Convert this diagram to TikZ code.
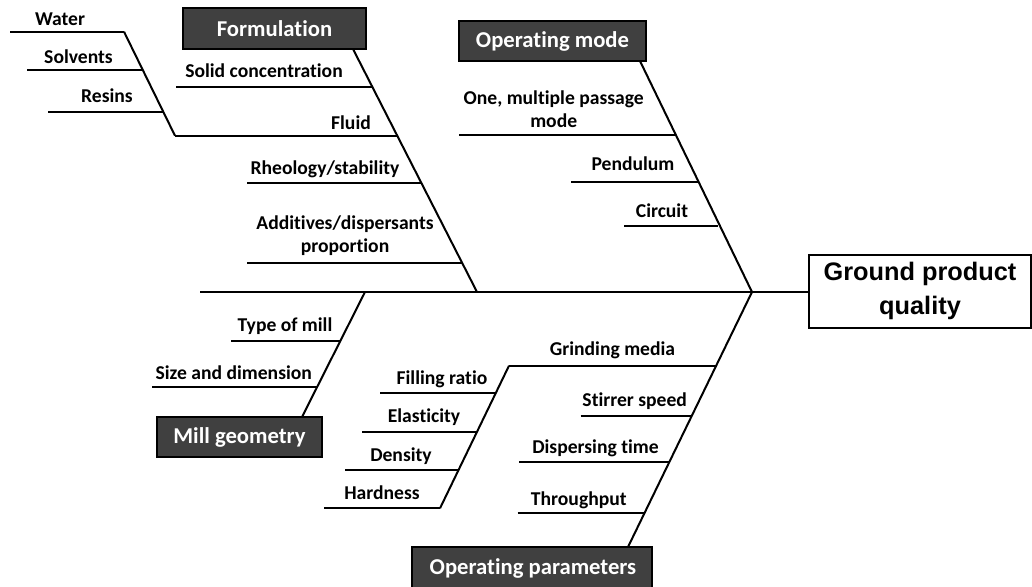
\documentclass[tikz,border=0pt]{standalone}
\usepackage{fontspec}
\setmainfont{Carlito}[Ligatures=NoCommon]
\newfontfamily\arialbold{Liberation Sans}[BoldFont={* Bold}]
\definecolor{catfill}{RGB}{64,64,64}
\begin{document}
\begin{tikzpicture}[x=0.75pt,y=-0.75pt,
  bone/.style={line width=1.5pt,black},
  cause/.style={draw=black,line width=0.8pt,fill=catfill,text=white,
    font=\fontsize{17}{20}\selectfont\bfseries,inner sep=0pt},
  lbl/.style={font=\fontsize{14.7}{17}\selectfont\bfseries,inner sep=0pt,align=center},
  effect/.style={draw=black,line width=1.5pt,fill=white,
    font=\arialbold\fontsize{19}{25}\selectfont\bfseries,inner sep=0pt,align=center}]
\useasboundingbox (0,0) rectangle (1032,586);
\clip (0,0) rectangle (1032,586);

% ---------- effect and spine ----------
\node[effect,minimum width=222*0.75pt,minimum height=73*0.75pt] (gpq) at (920,291)
  {Ground product\\quality};
\coordinate (head) at (752,292);
\coordinate (tail) at (200,292);
\draw[bone] (tail) -- (head) -- (head -| gpq.west);

% ---------- category boxes ----------
\node[cause,minimum width=183*0.75pt,minimum height=41*0.75pt] (form) at (274.5,28.5) {Formulation};
\node[cause,minimum width=187*0.75pt,minimum height=40*0.75pt] (opmode) at (552.5,41) {Operating mode};
\node[cause,minimum width=165*0.75pt,minimum height=40*0.75pt] (mill) at (239.5,437) {Mill geometry};
\node[cause,minimum width=240*0.75pt,minimum height=60*0.75pt] (oppar) at (532,577) {};
\node[text=white,font=\fontsize{17}{20}\selectfont\bfseries,inner sep=0pt] (opparT) at (533,568) {Operating parameters};

% ---------- Formulation ----------
\coordinate (fTop) at (353,49);
\coordinate (fBot) at (477,292);
\draw[bone] (fTop) -- (fBot);
\coordinate (fA) at (372,86.7);   \coordinate (fA0) at (176,86.7);
\coordinate (fB) at (397,135.7);  \coordinate (fB0) at (175,135.7);
\coordinate (fC) at (421,182.7);  \coordinate (fC0) at (247,182.7);
\coordinate (fD) at (462,262.7);  \coordinate (fD0) at (247,262.7);
\draw[bone] (fA0) -- (fA);
\draw[bone] (fB0) -- (fB);
\draw[bone] (fC0) -- (fC);
\draw[bone] (fD0) -- (fD);
\node[lbl] (tA) at (264,71) {Solid concentration};
\node[lbl] (tB) at (351,122.5) {Fluid};
\node[lbl] (tC) at (325,169.5) {Rheology/stability};
\node[lbl] (tD) at (345,235.5) {Additives/dispersants\\proportion};

% Fluid sub-branch
\coordinate (sTop) at (124,31.7);
\draw[bone] (sTop) -- (fB0);
\coordinate (sW0) at (10,31.7);
\coordinate (sS) at (143,70);    \coordinate (sS0) at (27,70);
\coordinate (sR) at (163.5,112.3); \coordinate (sR0) at (48,112.3);
\draw[bone] (sW0) -- (sTop);
\draw[bone] (sS0) -- (sS);
\draw[bone] (sR0) -- (sR);
\node[lbl] (tW) at (60,19) {Water};
\node[lbl] (tS) at (78.5,57) {Solvents};
\node[lbl] (tR) at (107,96) {Resins};

% ---------- Operating mode ----------
\coordinate (oTop) at (640,61);
\draw[bone] (oTop) -- (head);
\coordinate (oA) at (675,135);    \coordinate (oA0) at (459,135);
\coordinate (oB) at (697.6,182.3);\coordinate (oB0) at (571,182.3);
\coordinate (oC) at (718,225.7);  \coordinate (oC0) at (624,225.7);
\draw[bone] (oA0) -- (oA);
\draw[bone] (oB0) -- (oB);
\draw[bone] (oC0) -- (oC);
\node[lbl] (toA) at (553.7,109.5) {One, multiple passage\\mode};
\node[lbl] (toB) at (633,164) {Pendulum};
\node[lbl] (toC) at (662,210.7) {Circuit};

% ---------- Mill geometry ----------
\coordinate (mTop) at (365,292);
\coordinate (mBot) at (302,417);
\draw[bone] (mTop) -- (mBot);
\coordinate (mA) at (340.5,340.7); \coordinate (mA0) at (231,340.7);
\coordinate (mB) at (317,386.7);   \coordinate (mB0) at (152,386.7);
\draw[bone] (mA0) -- (mA);
\draw[bone] (mB0) -- (mB);
\node[lbl] (tmA) at (285,326) {Type of mill};
\node[lbl] (tmB) at (233.8,372.3) {Size and dimension};

% ---------- Operating parameters ----------
\coordinate (pBot) at (628,547);
\draw[bone] (head) -- (pBot);
\coordinate (pA) at (716,365.7);   \coordinate (pA0) at (509,365.7);
\coordinate (pB) at (691.6,416);   \coordinate (pB0) at (580.7,416);
\coordinate (pC) at (669,462.3);   \coordinate (pC0) at (519,462.3);
\coordinate (pD) at (644.5,512.7); \coordinate (pD0) at (517.7,512.7);
\draw[bone] (pA0) -- (pA);
\draw[bone] (pB0) -- (pB);
\draw[bone] (pC0) -- (pC);
\draw[bone] (pD0) -- (pD);
\node[lbl] (tpA) at (612.5,350.7) {Grinding media};
\node[lbl] (tpB) at (634.7,400.7) {Stirrer speed};
\node[lbl] (tpC) at (595.5,448.3) {Dispersing time};
\node[lbl] (tpD) at (578.8,500) {Throughput};

% Grinding media sub-branch
\coordinate (gBot) at (440,508.3);
\draw[bone] (pA0) -- (gBot);
\coordinate (gA) at (495.6,393.3); \coordinate (gA0) at (380,393.3);
\coordinate (gB) at (477,431.7);   \coordinate (gB0) at (362.3,431.7);
\coordinate (gC) at (458.5,470);   \coordinate (gC0) at (345,470);
\coordinate (gD0) at (324.3,508.3);
\draw[bone] (gA0) -- (gA);
\draw[bone] (gB0) -- (gB);
\draw[bone] (gC0) -- (gC);
\draw[bone] (gD0) -- (gBot);
\node[lbl] (tgA) at (442,379) {Filling ratio};
\node[lbl] (tgB) at (424,417.3) {Elasticity};
\node[lbl] (tgC) at (401,456) {Density};
\node[lbl] (tgD) at (382,492.7) {Hardness};
\end{tikzpicture}
\end{document}
